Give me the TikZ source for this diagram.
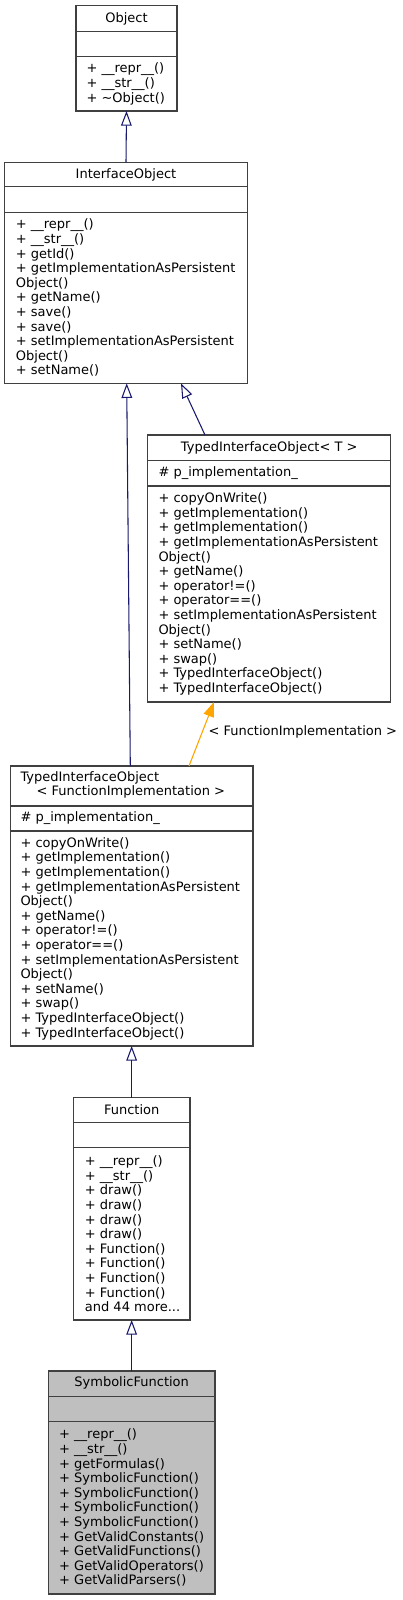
\documentclass[tikz,border=0pt]{standalone}
\usepackage{fontspec}
\setmainfont{DejaVu Sans}
\usetikzlibrary{arrows.meta,calc}
\definecolor{edgeblue}{HTML}{191970}
\definecolor{edgeorange}{HTML}{FFA500}
\definecolor{boxline}{HTML}{404040}
\definecolor{hifill}{HTML}{BFBFBF}
\begin{document}
\begin{tikzpicture}[x=0.75pt,y=-0.75pt,
  every node/.style={font=\fontsize{9.75}{10.95}\selectfont, inner sep=0pt, outer sep=0pt},
  umlbox/.style={draw=boxline, line width=0.85pt, rectangle, anchor=north west},
  sepline/.style={draw=boxline, line width=0.85pt},
  txt/.style={anchor=west, align=left},
  ttl/.style={anchor=center},
  inh/.style={draw=edgeblue, line width=0.8pt, -{Triangle[open, length=11pt, width=8pt]}},
  tmpl/.style={draw=edgeorange, line width=0.8pt, fill=edgeorange, -{Triangle[length=11pt, width=8pt]}},
]
\useasboundingbox (0,0) rectangle (403,1600);

% Object
\node[umlbox, minimum width=75.75pt, minimum height=78.975pt] (obj) at (76,5.7) {};
\draw[sepline] ($(obj.north west)+(0,26)$) -- ($(obj.north east)+(0,26)$);
\draw[sepline] ($(obj.north west)+(0,51)$) -- ($(obj.north east)+(0,51)$);
\node[ttl] (objt) at ($(obj.north)+(0,13)$) {Object};
\node[txt] (objm) at (86.5,83.85) {+ \_\_repr\_\_()\\+ \_\_str\_\_()\\+ \textasciitilde Object()};

% InterfaceObject
\node[umlbox, minimum width=181.95pt, minimum height=165.75pt] (iface) at (4.7,162.3) {};
\draw[sepline] ($(iface.north west)+(0,24.4)$) -- ($(iface.north east)+(0,24.4)$);
\draw[sepline] ($(iface.north west)+(0,50)$) -- ($(iface.north east)+(0,50)$);
\node[ttl] (ifacet) at ($(iface.north)+(0,12.2)$) {InterfaceObject};
\node[txt] (ifacem) at (15.9,297.8) {+ \_\_repr\_\_()\\+ \_\_str\_\_()\\+ getId()\\+ getImplementationAsPersistent\\Object()\\+ getName()\\+ save()\\+ save()\\+ setImplementationAsPersistent\\Object()\\+ setName()};

% TypedInterfaceObject< T >
\node[umlbox, minimum width=182.25pt, minimum height=200.25pt] (tiot) at (147.7,435) {};
\draw[sepline] ($(tiot.north west)+(0,25.7)$) -- ($(tiot.north east)+(0,25.7)$);
\draw[sepline] ($(tiot.north west)+(0,51)$) -- ($(tiot.north east)+(0,51)$);
\node[ttl] (tiott) at ($(tiot.north)+(0,12.9)$) {TypedInterfaceObject< T >};
\node[txt] (tiota) at (158.5,473.3) {\# p\_implementation\_};
\node[txt] (tiotm) at (158.5,594) {+ copyOnWrite()\\+ getImplementation()\\+ getImplementation()\\+ getImplementationAsPersistent\\Object()\\+ getName()\\+ operator!=()\\+ operator==()\\+ setImplementationAsPersistent\\Object()\\+ setName()\\+ swap()\\+ TypedInterfaceObject()\\+ TypedInterfaceObject()};

% TypedInterfaceObject< FunctionImplementation >
\node[umlbox, minimum width=181.725pt, minimum height=210pt] (tiofi) at (10.7,766) {};
\draw[sepline] ($(tiofi.north west)+(0,40)$) -- ($(tiofi.north east)+(0,40)$);
\draw[sepline] ($(tiofi.north west)+(0,65)$) -- ($(tiofi.north east)+(0,65)$);
\node[txt] (tiofit1) at (20.5,777.5) {TypedInterfaceObject};
\node[txt] (tiofit2) at (36.5,792.3) {< FunctionImplementation >};
\node[txt] (tiofia) at (20.5,818.5) {\# p\_implementation\_};
\node[txt] (tiofim) at (20.5,938.5) {+ copyOnWrite()\\+ getImplementation()\\+ getImplementation()\\+ getImplementationAsPersistent\\Object()\\+ getName()\\+ operator!=()\\+ operator==()\\+ setImplementationAsPersistent\\Object()\\+ setName()\\+ swap()\\+ TypedInterfaceObject()\\+ TypedInterfaceObject()};

% Function
\node[umlbox, minimum width=87.525pt, minimum height=166.725pt] (func) at (73.3,1097.7) {};
\draw[sepline] ($(func.north west)+(0,25)$) -- ($(func.north east)+(0,25)$);
\draw[sepline] ($(func.north west)+(0,50)$) -- ($(func.north east)+(0,50)$);
\node[ttl] (funct) at ($(func.north)+(0,12.2)$) {Function};
\node[txt] (funcm) at (84.9,1233.85) {+ \_\_repr\_\_()\\+ \_\_str\_\_()\\+ draw()\\+ draw()\\+ draw()\\+ draw()\\+ Function()\\+ Function()\\+ Function()\\+ Function()\\and 44 more...};

% SymbolicFunction
\node[umlbox, fill=hifill, minimum width=125.025pt, minimum height=167.25pt] (symf) at (48.3,1371) {};
\draw[sepline] ($(symf.north west)+(0,25.7)$) -- ($(symf.north east)+(0,25.7)$);
\draw[sepline] ($(symf.north west)+(0,50.7)$) -- ($(symf.north east)+(0,50.7)$);
\node[ttl] (symft) at ($(symf.north)+(0,11.5)$) {SymbolicFunction};
\node[txt] (symfm) at (59.2,1507.85) {+ \_\_repr\_\_()\\+ \_\_str\_\_()\\+ getFormulas()\\+ SymbolicFunction()\\+ SymbolicFunction()\\+ SymbolicFunction()\\+ SymbolicFunction()\\+ GetValidConstants()\\+ GetValidFunctions()\\+ GetValidOperators()\\+ GetValidParsers()};

% connectors
\draw[inh] (iface.north) -- (obj.south);
\draw[inh] ($(tiot.north west)+(57.3,0)$) -- ($(iface.south west)+(176.3,0)$);
\draw[inh] ($(tiofi.north west)+(119.6,0)$) -- ($(iface.south west)+(122,0)$);
\draw[tmpl] ($(tiofi.north west)+(178.3,0)$) -- ($(tiot.south west)+(66.3,0)$);
\node[txt] (lbl) at (208.5,732.3) {< FunctionImplementation >};
\draw[inh] (func.north) -- (tiofi.south -| func.north);
\draw[inh] (symf.north) -- (func.south);
\end{tikzpicture}
\end{document}
